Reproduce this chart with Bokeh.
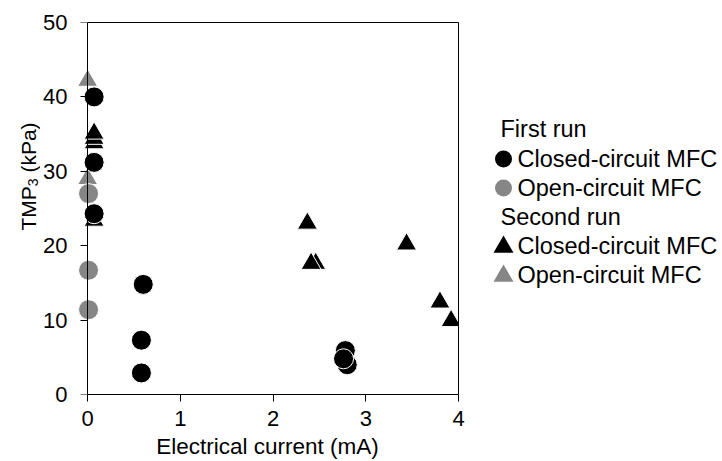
from math import pi

from bokeh.embed import file_html
from bokeh.layouts import row
from bokeh.models import FixedTicker, Label, LinearAxis, Range1d
from bokeh.plotting import figure
from bokeh.resources import INLINE

# TMP3 (kPa) against electrical current (mA), two runs of the MFC
run1_closed_current = [0.07, 0.07, 0.07, 0.60, 0.58, 0.58, 2.78, 2.80, 2.76]
run1_closed_tmp = [40.0, 31.2, 24.3, 14.8, 7.3, 2.9, 5.9, 4.0, 4.8]

run1_open_current = [0.01, 0.01, 0.01]
run1_open_tmp = [27.0, 16.7, 11.4]

run2_closed_current = [0.07, 0.07, 0.07, 0.07, 2.37, 2.46, 2.41, 3.44, 3.80, 3.92]
run2_closed_tmp = [33.8, 34.4, 35.1, 23.4, 23.0, 17.6, 17.6, 20.2, 12.4, 9.9]

run2_open_current = [0.0, 0.0]
run2_open_tmp = [42.2, 29.0]

x_ticks = [0, 1, 2, 3, 4]
y_ticks = [0, 10, 20, 30, 40, 50]

legend_groups = ["First run", "Second run"]
legend_entries = ["Closed-circuit MFC", "Open-circuit MFC"]

FONT = "Liberation Sans"
BLACK = "#000000"
GREY = "#868686"

HEIGHT = 461
BORDER_TOP, BORDER_BOTTOM = 22, 67

common = dict(height=HEIGHT, toolbar_location=None, output_backend="svg",
              min_border_top=BORDER_TOP, min_border_bottom=BORDER_BOTTOM,
              outline_line_color=None,
              background_fill_color="white", border_fill_color="white")

y_range = Range1d(y_ticks[0], y_ticks[-1])

# ---------------------------------------------------------------- main plot
p = figure(
    width=402,
    x_range=Range1d(-0.12, x_ticks[-1]), y_range=y_range,
    x_axis_location=None, y_axis_location=None,
    min_border_left=8, min_border_right=12, **common,
)
p.grid.visible = False


def plain_axis(ax):
    ax.axis_line_color = BLACK
    ax.axis_line_width = 1
    ax.major_tick_line_color = BLACK
    ax.major_tick_out = 7
    ax.major_tick_in = 0
    ax.minor_tick_line_color = None


xaxis = LinearAxis(ticker=FixedTicker(ticks=x_ticks), bounds=(x_ticks[0], x_ticks[-1]))
plain_axis(xaxis)
xaxis.major_label_standoff = 9
xaxis.major_label_text_font = FONT
xaxis.major_label_text_font_size = "22px"
xaxis.major_label_text_color = BLACK
xaxis.axis_label = "Electrical current (mA)"
xaxis.axis_label_text_font = FONT
xaxis.axis_label_text_font_size = "22.5px"
xaxis.axis_label_text_font_style = "normal"
xaxis.axis_label_text_color = BLACK
xaxis.axis_label_standoff = 5
p.add_layout(xaxis, "below")

# y axis line and ticks sit at zero current; its numbers live in their own panel
yaxis = LinearAxis(ticker=FixedTicker(ticks=y_ticks), fixed_location=x_ticks[0])
plain_axis(yaxis)
yaxis.major_label_text_font_size = "0px"
yaxis.major_label_text_alpha = 0
yaxis.major_label_standoff = 0
p.add_layout(yaxis, "left")

# plain frame lines on the top and right sides
top_line = LinearAxis(ticker=FixedTicker(ticks=[]), bounds=(x_ticks[0], x_ticks[-1]))
right_line = LinearAxis(ticker=FixedTicker(ticks=[]))
for ax in (top_line, right_line):
    ax.axis_line_color = BLACK
    ax.axis_line_width = 1
    ax.major_tick_line_color = None
    ax.minor_tick_line_color = None
p.add_layout(top_line, "above")
p.add_layout(right_line, "right")

marker_kw = dict(size=20, line_color="white", line_width=1)
p.scatter(run2_open_current, run2_open_tmp, marker="triangle", fill_color=GREY, **marker_kw)
p.scatter(run2_closed_current, run2_closed_tmp, marker="triangle", fill_color=BLACK, **marker_kw)
p.scatter(run1_open_current, run1_open_tmp, marker="circle", fill_color=GREY, **marker_kw)
p.scatter(run1_closed_current, run1_closed_tmp, marker="circle", fill_color=BLACK, **marker_kw)

# ---------------------------------------------------------------- y tick numbers
nums = figure(
    width=28, x_range=Range1d(0, 1), y_range=y_range,
    x_axis_location=None, y_axis_location=None,
    min_border_left=26, min_border_right=0, **common,
)
nums.grid.visible = False
num_axis = LinearAxis(ticker=FixedTicker(ticks=y_ticks))
num_axis.axis_line_color = None
num_axis.major_tick_line_color = None
num_axis.minor_tick_line_color = None
num_axis.major_tick_out = 0
num_axis.major_tick_in = 0
num_axis.major_label_standoff = 0
num_axis.major_label_text_font = FONT
num_axis.major_label_text_font_size = "22px"
num_axis.major_label_text_color = BLACK
nums.add_layout(num_axis, "left")

# ---------------------------------------------------------------- y title (TMP with subscript 3)
ttl = figure(
    width=40, x_range=Range1d(0, 40), y_range=Range1d(BORDER_BOTTOM, HEIGHT - BORDER_TOP),
    x_axis_location=None, y_axis_location=None,
    min_border_left=0, min_border_right=0, **common,
)
ttl.grid.visible = False
title_kw = dict(angle=pi / 2, text_font=FONT, text_color=BLACK,
                text_align="left", text_baseline="alphabetic")
ttl.add_layout(Label(text="TMP", x=28, y=231, text_font_size="21px", **title_kw))
ttl.add_layout(Label(text="3", x=32.5, y=275.3, text_font_size="14px", **title_kw))
ttl.add_layout(Label(text="(kPa)", x=28, y=288.9, text_font_size="21px", **title_kw))

# ---------------------------------------------------------------- legend panel
leg = figure(
    width=252, x_range=Range1d(0, 252), y_range=Range1d(HEIGHT - BORDER_BOTTOM, BORDER_TOP),
    x_axis_location=None, y_axis_location=None,
    min_border_left=0, min_border_right=0, **common,
)
leg.grid.visible = False

head_x, marker_x, text_x = 30, 33, 47
rows = [
    (legend_groups[0], None, None, 128),
    (legend_entries[0], "circle", BLACK, 158.5),
    (legend_entries[1], "circle", GREY, 187.5),
    (legend_groups[1], None, None, 216),
    (legend_entries[0], "triangle", BLACK, 245),
    (legend_entries[1], "triangle", GREY, 274),
]
for text, marker, color, y in rows:
    if marker is None:
        tx = head_x
    else:
        tx = text_x
        my = y + (1.5 if marker == "triangle" else 0)
        leg.scatter([marker_x], [my], marker=marker, size=17 if marker == "circle" else 20,
                    fill_color=color, line_color=None)
    leg.add_layout(Label(x=tx, y=y, text=text, text_font=FONT, text_font_size="23.5px",
                         text_color=BLACK, text_align="left", text_baseline="middle"))

layout = row(ttl, nums, p, leg)
open("out.html", "w").write(file_html(layout, INLINE))
